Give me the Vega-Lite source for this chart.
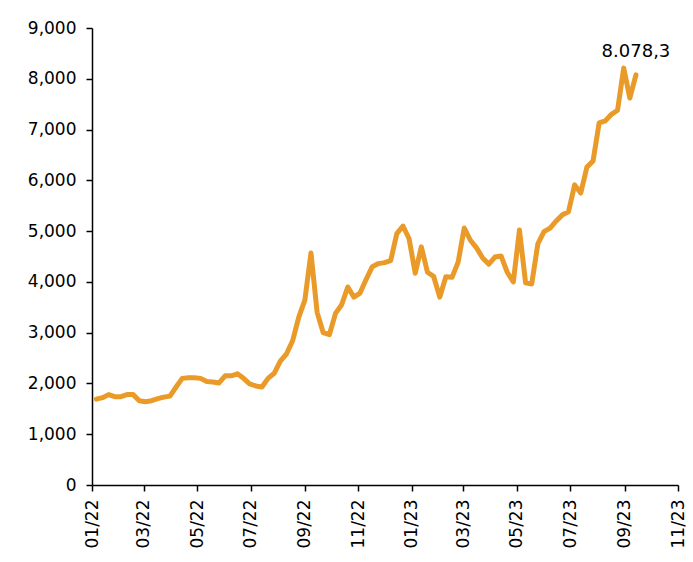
{
  "$schema": "https://vega.github.io/schema/vega-lite/v6.json",
  "autosize": "none",
  "width": 586,
  "height": 457,
  "padding": {"left": 92, "top": 28, "right": 15, "bottom": 77},
  "background": "white",
  "config": {"view": {"stroke": null}, "font": "DejaVu Sans"},
  "data": {"values": [
    {"date": "2022-01-06", "v": 1690}, {"date": "2022-01-13", "v": 1720}, {"date": "2022-01-20", "v": 1780}, {"date": "2022-01-27", "v": 1740},
    {"date": "2022-02-03", "v": 1740}, {"date": "2022-02-10", "v": 1780}, {"date": "2022-02-17", "v": 1780}, {"date": "2022-02-24", "v": 1660},
    {"date": "2022-03-03", "v": 1640}, {"date": "2022-03-10", "v": 1660}, {"date": "2022-03-17", "v": 1700}, {"date": "2022-03-24", "v": 1730}, {"date": "2022-03-31", "v": 1750},
    {"date": "2022-04-07", "v": 1930}, {"date": "2022-04-14", "v": 2100}, {"date": "2022-04-21", "v": 2110}, {"date": "2022-04-28", "v": 2110},
    {"date": "2022-05-05", "v": 2100}, {"date": "2022-05-12", "v": 2040}, {"date": "2022-05-19", "v": 2030}, {"date": "2022-05-26", "v": 2010},
    {"date": "2022-06-02", "v": 2150}, {"date": "2022-06-09", "v": 2150}, {"date": "2022-06-16", "v": 2190}, {"date": "2022-06-23", "v": 2100}, {"date": "2022-06-30", "v": 1990},
    {"date": "2022-07-07", "v": 1950}, {"date": "2022-07-14", "v": 1930}, {"date": "2022-07-21", "v": 2100}, {"date": "2022-07-28", "v": 2200},
    {"date": "2022-08-04", "v": 2440}, {"date": "2022-08-11", "v": 2580}, {"date": "2022-08-18", "v": 2840}, {"date": "2022-08-25", "v": 3300},
    {"date": "2022-09-01", "v": 3640}, {"date": "2022-09-08", "v": 4570}, {"date": "2022-09-15", "v": 3400}, {"date": "2022-09-22", "v": 3000}, {"date": "2022-09-29", "v": 2960},
    {"date": "2022-10-06", "v": 3380}, {"date": "2022-10-13", "v": 3550}, {"date": "2022-10-20", "v": 3900}, {"date": "2022-10-27", "v": 3700},
    {"date": "2022-11-03", "v": 3780}, {"date": "2022-11-10", "v": 4050}, {"date": "2022-11-17", "v": 4300}, {"date": "2022-11-24", "v": 4360},
    {"date": "2022-12-01", "v": 4380}, {"date": "2022-12-08", "v": 4420}, {"date": "2022-12-15", "v": 4950}, {"date": "2022-12-22", "v": 5100}, {"date": "2022-12-29", "v": 4850},
    {"date": "2023-01-05", "v": 4170}, {"date": "2023-01-12", "v": 4690}, {"date": "2023-01-19", "v": 4190}, {"date": "2023-01-26", "v": 4110},
    {"date": "2023-02-02", "v": 3700}, {"date": "2023-02-09", "v": 4100}, {"date": "2023-02-16", "v": 4090}, {"date": "2023-02-23", "v": 4390},
    {"date": "2023-03-02", "v": 5060}, {"date": "2023-03-09", "v": 4820}, {"date": "2023-03-16", "v": 4670}, {"date": "2023-03-23", "v": 4470}, {"date": "2023-03-30", "v": 4350},
    {"date": "2023-04-06", "v": 4490}, {"date": "2023-04-13", "v": 4510}, {"date": "2023-04-20", "v": 4190}, {"date": "2023-04-27", "v": 4000},
    {"date": "2023-05-04", "v": 5020}, {"date": "2023-05-11", "v": 3980}, {"date": "2023-05-18", "v": 3960}, {"date": "2023-05-25", "v": 4750},
    {"date": "2023-06-01", "v": 4990}, {"date": "2023-06-08", "v": 5060}, {"date": "2023-06-15", "v": 5200}, {"date": "2023-06-22", "v": 5320}, {"date": "2023-06-29", "v": 5380},
    {"date": "2023-07-06", "v": 5910}, {"date": "2023-07-13", "v": 5750}, {"date": "2023-07-20", "v": 6260}, {"date": "2023-07-27", "v": 6380},
    {"date": "2023-08-03", "v": 7130}, {"date": "2023-08-10", "v": 7170}, {"date": "2023-08-17", "v": 7300}, {"date": "2023-08-24", "v": 7380}, {"date": "2023-08-31", "v": 8210},
    {"date": "2023-09-07", "v": 7620}, {"date": "2023-09-14", "v": 8078.3, "label": "8.078,3"}
  ]},
  "encoding": {
    "x": {
      "field": "date", "type": "temporal",
      "scale": {"type": "utc", "domain": [{"year": 2022, "month": 1, "date": 1, "utc": true}, {"year": 2023, "month": 11, "date": 1, "utc": true}]},
      "axis": {
        "title": null,
        "values": [
          {"year": 2022, "month": 1, "date": 1, "utc": true}, {"year": 2022, "month": 3, "date": 1, "utc": true},
          {"year": 2022, "month": 5, "date": 1, "utc": true}, {"year": 2022, "month": 7, "date": 1, "utc": true},
          {"year": 2022, "month": 9, "date": 1, "utc": true}, {"year": 2022, "month": 11, "date": 1, "utc": true},
          {"year": 2023, "month": 1, "date": 1, "utc": true}, {"year": 2023, "month": 3, "date": 1, "utc": true},
          {"year": 2023, "month": 5, "date": 1, "utc": true}, {"year": 2023, "month": 7, "date": 1, "utc": true},
          {"year": 2023, "month": 9, "date": 1, "utc": true}, {"year": 2023, "month": 11, "date": 1, "utc": true}
        ],
        "format": "%m/%y",
        "labelAngle": -90, "labelAlign": "right", "labelBaseline": "middle",
        "labelFontSize": 17, "labelColor": "black", "labelPadding": 8,
        "domainColor": "black", "domainWidth": 1.5, "tickColor": "black", "tickWidth": 1.5, "tickSize": 6,
        "grid": false, "labelOverlap": false, "labelFlush": false, "labelBound": false
      }
    },
    "y": {
      "field": "v", "type": "quantitative",
      "scale": {"domain": [0, 9000], "nice": false},
      "axis": {
        "title": null, "values": [0, 1000, 2000, 3000, 4000, 5000, 6000, 7000, 8000, 9000],
        "format": ",d", "labelFontSize": 17, "labelColor": "black", "labelPadding": 10,
        "domainColor": "black", "domainWidth": 1.5, "tickColor": "black", "tickWidth": 1.5, "tickSize": 6,
        "grid": false, "labelFlush": false
      }
    }
  },
  "layer": [
    {"mark": {"type": "line", "color": "#E99A28", "strokeWidth": 5, "strokeJoin": "round", "strokeCap": "round"}},
    {"transform": [{"filter": "isValid(datum.label)"}],
     "mark": {"type": "text", "fontSize": 18, "color": "black", "align": "center", "baseline": "middle", "dy": -23}, "encoding": {"text": {"field": "label"}}}
  ]
}
